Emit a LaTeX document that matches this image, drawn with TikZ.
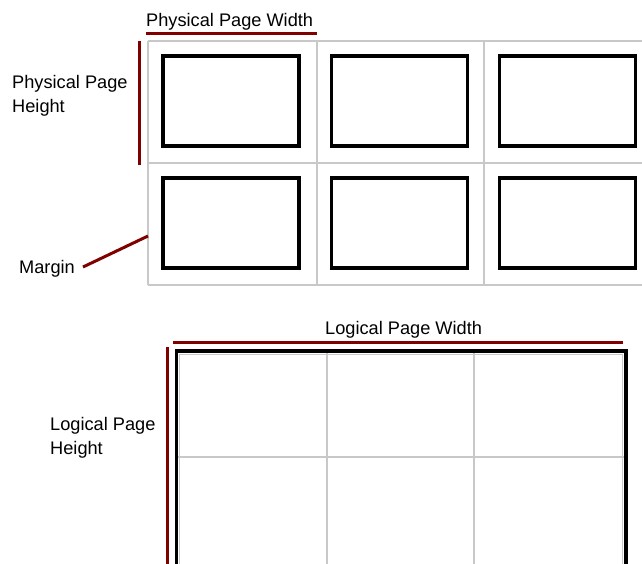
\documentclass[tikz,border=0pt]{standalone}
\usepackage{fontspec}
\setmainfont{Liberation Sans}
\begin{document}
\begin{tikzpicture}[x=1pt,y=-1pt,
  lbl/.style={inner sep=0pt, font=\fontsize{18.2}{24}\selectfont, align=left},
  gridline/.style={draw=gridgray, line width=1.6pt},
  pagebox/.style={draw=black, line width=3.4pt, minimum width=136pt, minimum height=90pt, inner sep=0pt, outer sep=0pt},
  redbar/.style={draw=darkred, line width=3pt},
  ]
\definecolor{gridgray}{RGB}{200,200,200}
\definecolor{darkred}{RGB}{128,0,0}
\useasboundingbox (0,0) rectangle (642,563);
\clip (0,0) rectangle (642,563);
\fill[white] (0,0) rectangle (642,563);
% top physical grid
\path[gridline] (148,41) -- (660,41) (148,163) -- (660,163) (148,285) -- (660,285)
  (148,41) -- (148,285) (317,41) -- (317,285) (484,41) -- (484,285);
\node[pagebox] (p11) at (231,101) {};
\node[pagebox] (p12) at (399.5,101) {};
\node[pagebox] (p13) at (567.5,101) {};
\node[pagebox] (p21) at (231,223) {};
\node[pagebox] (p22) at (399.5,223) {};
\node[pagebox] (p23) at (567.5,223) {};
% labels top
\node[lbl, anchor=base west] (ppw) at (146,26) {Physical Page Width};
\node[lbl, anchor=north west] (pph) at (12,75) {Physical Page\\Height};
\node[lbl, anchor=base west, inner sep=1pt] (mar) at (18,273) {Margin};
\coordinate (ppwL) at (146,33);
\coordinate (ppwR) at (317,33);
\coordinate (pphT) at (139,41);
\coordinate (pphB) at (139,165);
\coordinate (mtip) at (148,236);
\coordinate (mstart) at (83,267);
\path[redbar] (ppwL) -- (ppwR);
\path[redbar] (pphT) -- (pphB);
\path[redbar] (mstart) -- (mtip);
% bottom logical page
\path[gridline] (327,351) -- (327,570) (474,351) -- (474,570) (176,457) -- (626,457);
\draw[gridgray, line width=1pt] (179.5,354.5) rectangle (622.5,600);
\draw[black, line width=3.4pt] (176.5,351) rectangle (626,600);
\node[lbl, anchor=base west] (lpw) at (325,334) {Logical Page Width};
\node[lbl, anchor=north west] (lph) at (50,417) {Logical Page\\Height};
\coordinate (lpwL) at (173,342);
\coordinate (lpwR) at (623,342);
\coordinate (lphT) at (167,347);
\coordinate (lphB) at (167,575);
\path[redbar] (lpwL) -- (lpwR);
\path[redbar] (lphT) -- (lphB);
\end{tikzpicture}
\end{document}
